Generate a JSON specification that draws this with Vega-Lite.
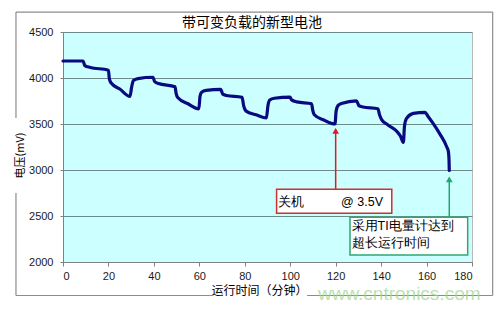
{
  "$schema": "https://vega.github.io/schema/vega-lite/v6.json",
  "width": 409,
  "height": 230,
  "autosize": {"type": "none"},
  "padding": {"left": 63, "top": 32, "right": 31, "bottom": 50},
  "background": "white",
  "config": {
    "view": {"fill": "#ccffff", "stroke": "#b8b8b8"},
    "font": "Liberation Sans"
  },
  "datasets": {
    "battery": [
      {"t": 0, "mv": 4185}, {"t": 8.8, "mv": 4185}, {"t": 9.6, "mv": 4135}, {"t": 12, "mv": 4115}, {"t": 20, "mv": 4085},
      {"t": 20.4, "mv": 3990}, {"t": 21.2, "mv": 3945}, {"t": 25, "mv": 3880}, {"t": 29.5, "mv": 3800},
      {"t": 30.2, "mv": 3900}, {"t": 31, "mv": 3972}, {"t": 33, "mv": 3993}, {"t": 39.6, "mv": 4008},
      {"t": 40.3, "mv": 3962}, {"t": 42, "mv": 3940}, {"t": 49.3, "mv": 3905},
      {"t": 49.8, "mv": 3830}, {"t": 50.6, "mv": 3785}, {"t": 55, "mv": 3720}, {"t": 59.8, "mv": 3665},
      {"t": 60.3, "mv": 3800}, {"t": 61, "mv": 3845}, {"t": 63, "mv": 3865}, {"t": 69.4, "mv": 3877},
      {"t": 70.3, "mv": 3825}, {"t": 72, "mv": 3810}, {"t": 78.8, "mv": 3790},
      {"t": 79.5, "mv": 3700}, {"t": 80.6, "mv": 3640}, {"t": 85, "mv": 3600}, {"t": 89.5, "mv": 3565},
      {"t": 90.2, "mv": 3700}, {"t": 91, "mv": 3760}, {"t": 93, "mv": 3780}, {"t": 99.9, "mv": 3792},
      {"t": 100.6, "mv": 3762}, {"t": 103, "mv": 3740}, {"t": 109.4, "mv": 3720},
      {"t": 109.9, "mv": 3650}, {"t": 110.6, "mv": 3600}, {"t": 115, "mv": 3540}, {"t": 119.7, "mv": 3500},
      {"t": 120.2, "mv": 3640}, {"t": 121, "mv": 3700}, {"t": 122.5, "mv": 3722}, {"t": 129.2, "mv": 3752},
      {"t": 130.2, "mv": 3700}, {"t": 132, "mv": 3685}, {"t": 138.6, "mv": 3665},
      {"t": 139.3, "mv": 3600}, {"t": 140.3, "mv": 3545}, {"t": 143, "mv": 3490}, {"t": 146.9, "mv": 3420},
      {"t": 148.5, "mv": 3370}, {"t": 149.8, "mv": 3300},
      {"t": 150.3, "mv": 3480}, {"t": 151.2, "mv": 3560}, {"t": 154.2, "mv": 3616}, {"t": 159.3, "mv": 3627},
      {"t": 160.6, "mv": 3585}, {"t": 162.5, "mv": 3520}, {"t": 165.9, "mv": 3390}, {"t": 168.9, "mv": 3250},
      {"t": 169.6, "mv": 3200}, {"t": 169.9, "mv": 3100}, {"t": 170, "mv": 2995}
    ],
    "frame": [
      {"x": -20.7, "x2": 189.1, "y": 4717, "y2": 4717},
      {"x": 189.1, "x2": 189.1, "y": 4717, "y2": 1636},
      {"x": -20.7, "x2": 66, "y": 1636, "y2": 1636},
      {"x": 107.4, "x2": 189.1, "y": 1636, "y2": 1636},
      {"x": -20.7, "x2": -20.7, "y": 4717, "y2": 3565},
      {"x": -20.7, "x2": -20.7, "y": 2750, "y2": 1636}
    ],
    "boxes": [
      {"id": "red", "x": 94.0, "x2": 144.7, "y": 2790, "y2": 2529},
      {"id": "green", "x": 126.3, "x2": 178.1, "y": 2486, "y2": 2076}
    ],
    "arrows": [
      {"id": "red", "t": 120, "from": 2790, "to": 3440, "head": 3425},
      {"id": "green", "t": 170, "from": 2486, "to": 2910, "head": 2898}
    ],
    "labels": [
      {"id": "red", "t": 94.8, "mv": 2655, "text": "关机", "font": "Noto Sans CJK SC"},
      {"id": "red", "t": 122.4, "mv": 2655, "text": "@ 3.5V", "font": "Liberation Sans"},
      {"id": "green", "t": 127.0, "mv": 2392, "text": "采用TI电量计达到", "font": "Noto Sans CJK SC"},
      {"id": "green", "t": 127.0, "mv": 2205, "text": "超长运行时间", "font": "Noto Sans CJK SC"}
    ],
    "titles": [
      {"t": 83.2, "mv": 4600, "text": "带可变负载的新型电池"}
    ],
    "watermark": [
      {"t": 112.2, "mv": 1655, "text": "www.cntronics.com"}
    ]
  },
  "layer": [
    {
      "data": {"name": "frame"},
      "mark": {"type": "rule", "color": "#8c8c8c", "strokeWidth": 1.2},
      "encoding": {
        "x": {"field": "x", "type": "quantitative"},
        "x2": {"field": "x2"},
        "y": {"field": "y", "type": "quantitative"},
        "y2": {"field": "y2"}
      }
    },
    {
      "data": {"name": "battery"},
      "mark": {"type": "line", "color": "#0a0a80", "strokeWidth": 3.2, "interpolate": "monotone", "strokeCap": "round", "strokeJoin": "round"},
      "encoding": {
        "x": {
          "field": "t", "type": "quantitative",
          "scale": {"domain": [0, 180], "nice": false, "zero": false},
          "axis": {
            "values": [0, 20, 40, 60, 80, 100, 120, 140, 160, 180],
            "format": "d",
            "grid": false,
            "domainColor": "#808080",
            "tickColor": "#808080",
            "tickSize": 4,
            "labelPadding": 4,
            "labelFont": "Liberation Sans",
            "labelFontSize": 11,
            "labelColor": "#1a1a1a",
            "title": "运行时间（分钟）",
            "titleFont": "Noto Sans CJK SC",
            "titleFontSize": 12,
            "titleFontWeight": "normal",
            "titleColor": "#000000",
            "titleX": 196,
            "titleY": 28,
            "titleBaseline": "middle",
            "titleAnchor": null
          }
        },
        "y": {
          "field": "mv", "type": "quantitative",
          "scale": {"domain": [2000, 4500], "nice": false, "zero": false},
          "axis": {
            "values": [2000, 2500, 3000, 3500, 4000, 4500],
            "format": "d",
            "grid": true,
            "gridColor": "#6f8a8a",
            "gridWidth": 1.2,
            "domainColor": "#808080",
            "tickColor": "#808080",
            "tickSize": 3,
            "labelPadding": 7,
            "labelFont": "Liberation Sans",
            "labelFontSize": 11,
            "labelColor": "#1a1a1a",
            "title": "电压(mV)",
            "titleFont": "Noto Sans CJK SC",
            "titleFontSize": 11,
            "titleFontWeight": "normal",
            "titleColor": "#000000",
            "titleX": -43,
            "titleY": 123,
            "titleBaseline": "middle",
            "titleAnchor": null
          }
        }
      }
    },
    {
      "data": {"name": "arrows"},
      "mark": {"type": "rule", "strokeWidth": 1.5},
      "encoding": {
        "x": {"field": "t", "type": "quantitative"},
        "y": {"field": "from", "type": "quantitative"},
        "y2": {"field": "to"},
        "color": {"field": "id", "type": "nominal", "scale": {"domain": ["red", "green"], "range": ["#e01b1b", "#1fa86a"]}, "legend": null}
      }
    },
    {
      "data": {"name": "arrows"},
      "mark": {"type": "point", "shape": "triangle-up", "filled": true, "size": 45, "opacity": 1},
      "encoding": {
        "x": {"field": "t", "type": "quantitative"},
        "y": {"field": "head", "type": "quantitative"},
        "color": {"field": "id", "type": "nominal", "scale": {"domain": ["red", "green"], "range": ["#e01b1b", "#1fa86a"]}, "legend": null}
      }
    },
    {
      "data": {"name": "boxes"},
      "mark": {"type": "rect", "fill": "#ffffff", "strokeWidth": 1.5},
      "encoding": {
        "x": {"field": "x", "type": "quantitative"},
        "x2": {"field": "x2"},
        "y": {"field": "y", "type": "quantitative"},
        "y2": {"field": "y2"},
        "stroke": {"field": "id", "type": "nominal", "scale": {"domain": ["red", "green"], "range": ["#c83232", "#2ea870"]}, "legend": null}
      }
    },
    {
      "data": {"name": "labels"},
      "mark": {"type": "text", "align": "left", "baseline": "middle", "fontSize": 12.5, "color": "#000000"},
      "encoding": {
        "x": {"field": "t", "type": "quantitative"},
        "y": {"field": "mv", "type": "quantitative"},
        "text": {"field": "text"},
        "font": {"field": "font"}
      }
    },
    {
      "data": {"name": "titles"},
      "mark": {"type": "text", "align": "center", "baseline": "middle", "fontSize": 14, "font": "Noto Sans CJK SC", "color": "#000000"},
      "encoding": {
        "x": {"field": "t", "type": "quantitative"},
        "y": {"field": "mv", "type": "quantitative"},
        "text": {"field": "text"}
      }
    },
    {
      "data": {"name": "watermark"},
      "mark": {"type": "text", "align": "left", "baseline": "middle", "fontSize": 19, "font": "Liberation Sans", "color": "#9fd68c", "opacity": 0.7},
      "encoding": {
        "x": {"field": "t", "type": "quantitative"},
        "y": {"field": "mv", "type": "quantitative"},
        "text": {"field": "text"}
      }
    }
  ]
}
